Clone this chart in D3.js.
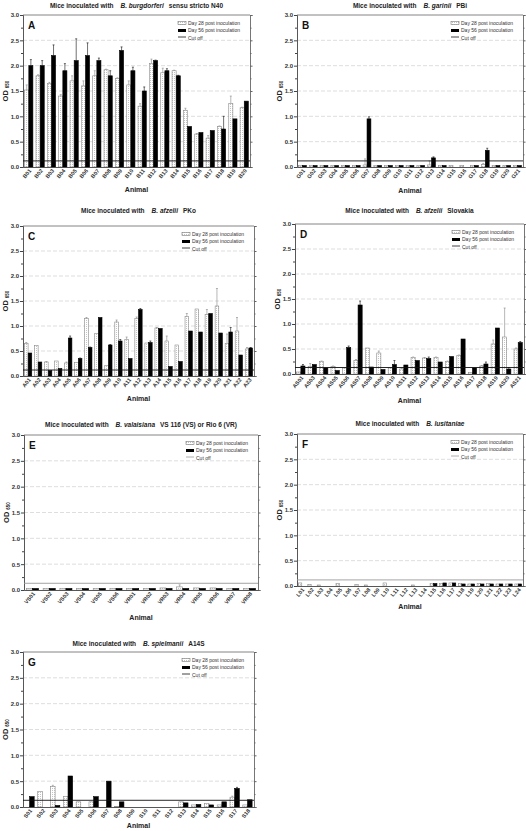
<!DOCTYPE html>
<html><head><meta charset="utf-8">
<script src="https://cdn.jsdelivr.net/npm/d3@7"></script>
<style>body{margin:0;background:#fff}svg{display:block;font-family:"Liberation Sans",Arial,sans-serif}</style>
</head><body><svg id="c" width="526" height="831"></svg>
<script>
// ---------- DATA ----------
const yTicks = [0, 0.5, 1.0, 1.5, 2.0, 2.5, 3.0];
const legendLabels = ["Day 28 post inoculation", "Day 56 post inoculation", "Cut off"];

// Panel A: B. burgdorferi sensu stricto N40
const aAnimals = ["B01","B02","B03","B04","B05","B06","B07","B08","B09","B10","B11","B12","B13","B14","B15","B16","B17","B18","B19","B20"];
const aDay28 = [1.52,1.80,1.65,1.40,1.70,1.60,1.80,1.92,1.75,1.62,1.20,2.04,1.86,1.90,1.12,0.65,0.57,0.80,1.25,1.17];
const aDay28Err = [0.10,0.02,0.02,0.03,0.10,0.10,0.10,0.01,0.01,0.08,0.05,0.09,0.09,0.01,0.04,0.01,0.05,0.01,0.15,0.01];
const aDay56 = [2.00,2.00,2.20,1.90,2.10,2.20,2.10,1.80,2.30,1.90,1.50,2.10,1.90,1.80,0.80,0.68,0.72,0.75,0.95,1.30];
const aDay56Err = [0.12,0.10,0.21,0.14,0.43,0.25,0.05,0.10,0.07,0.07,0.08,0.01,0.04,0.01,0,0,0,0.25,0,0];
const aCutoff = 0.12;

// Panel B: B. garinii PBi
const bAnimals = ["G01","G02","G03","G04","G05","G06","G07","G08","G09","G10","G11","G12","G13","G14","G15","G16","G17","G18","G19","G20","G21"];
const bDay28 = [0.03,0.03,0.03,0.03,0.03,0.03,0.04,0.03,0.03,0.03,0.03,0.03,0.04,0.03,0.03,0.03,0.03,0.05,0.03,0.03,0.03];
const bDay28Err = [0,0,0,0,0,0,0.12,0,0,0,0,0,0.08,0,0,0,0,0.02,0,0,0];
const bDay56 = [0.03,0.03,0.03,0.03,0.03,0.03,0.95,0.03,0.03,0.03,0.03,0.03,0.18,0.03,null,null,0.03,0.33,0.03,0.03,0.03];
const bDay56Err = [0,0,0,0,0,0,0.04,0,0,0,0,0,0.02,0,0,0,0,0.04,0,0,0];
const bCutoff = 0.12;

// Panel C: B. afzelii PKo
const cAnimals = ["A01","A02","A03","A04","A05","A06","A07","A08","A09","A10","A11","A12","A13","A14","A15","A16","A17","A18","A19","A20","A21","A22","A23"];
const cDay28 = [0.65,0.61,0.28,0.30,0.26,0.27,1.15,0.85,0.21,1.08,0.73,1.15,0.66,0.96,0.70,0.62,1.19,1.34,1.23,1.40,0.65,0.90,0.54];
const cDay28Err = [0.02,0,0.01,0,0.02,0,0.02,0,0,0.04,0.05,0.03,0,0.01,0.10,0,0.06,0,0.10,0.35,0.19,0.27,0.03];
const cDay56 = [0.46,0.28,0.11,0.15,0.76,0.35,0.57,1.17,0.62,0.70,0.35,1.33,0.67,0.95,0.19,0.29,0.90,0.88,1.25,0.86,0.88,0.42,0.56];
const cDay56Err = [0,0,0,0,0.04,0.01,0.01,0,0.01,0.03,0,0.02,0.03,0,0,0,0,0,0,0,0.09,0,0.01];
const cCutoff = 0.12;

// Panel D: B. afzelii Slovakia
const dAnimals = ["AS01","AS03","AS04","AS05","AS06","AS07","AS08","AS09","AS10","AS11","AS12","AS13","AS14","AS15","AS16","AS17","AS18","AS19","AS20","AS21"];
const dDay28 = [0.04,0.15,0.25,0.15,0.12,0.27,0.52,0.42,0.12,0.10,0.33,0.32,0.33,0.25,0.37,0.03,0.16,0.60,0.74,0.50];
const dDay28Err = [0,0.06,0.01,0.01,0,0.02,0,0.04,0,0.01,0.01,0.01,0.01,0.01,0.01,0,0.01,0.08,0.58,0.02];
const dDay56 = [0.16,0.19,0.12,0.07,0.53,1.38,0.14,0.09,0.19,0.18,0.27,0.31,0.24,0.35,0.70,0.12,0.20,0.92,0.10,0.63];
const dDay56Err = [0.03,0,0,0,0.03,0.08,0,0,0.08,0,0,0.03,0,0,0,0,0.04,0,0.03,0.02];
const dCutoff = 0.13;

// Panel E: B. valaisiana VS 116 / Rio 6
const eAnimals = ["VS01","VS02","VS03","VS04","VS05","VS06","VR01","VR02","VR03","VR04","VR05","VR06","VR07","VR08"];
const eDay28 = [0.03,0.03,0.03,0.03,0.03,0.03,0.03,0.03,0.04,0.06,0.04,0.04,0.03,0.03];
const eDay28Err = [0,0,0,0,0,0,0,0,0,0.04,0,0,0,0];
const eDay56 = [0.03,0.03,0.03,0.03,0.03,0.03,0.03,0.03,0.03,0.03,0.03,0.03,0.03,0.03];
const eDay56Err = [0,0,0,0,0,0,0,0,0,0,0,0,0,0];
const eCutoff = 0.13;

// Panel F: B. lusitaniae
const fAnimals = ["L01","L02","L03","L04","L05","L06","L07","L08","L09","L10","L11","L12","L13","L14","L15","L16","L17","L18","L19","L20","L21","L22","L23","L24"];
const fDay28 = [0.06,0.03,0.02,null,0.05,null,0.03,0.02,null,0.06,null,null,0.02,null,0.05,0.05,0.06,0.05,0.04,0.05,0.05,0.04,0.04,0.04];
const fDay28Err = [0,0,0,0,0,0,0,0,0,0,0,0,0,0,0,0,0,0,0,0,0,0,0,0];
const fDay56 = [null,null,null,null,null,null,null,null,null,null,null,null,null,null,0.05,0.06,0.06,0.04,0.04,0.04,0.04,0.04,0.04,0.04];
const fDay56Err = [0,0,0,0,0,0,0,0,0,0,0,0,0,0,0,0,0,0,0,0,0,0,0,0];
const fCutoff = 0.12;

// Panel G: B. spielmanii A14S
const gAnimals = ["S01","S02","S03","S04","S05","S06","S07","S08","S09","S10","S11","S12","S13","S14","S15","S16","S17","S18"];
const gDay28 = [null,0.30,0.40,0.20,0.10,0.10,null,0.01,null,null,null,null,0.10,0.04,0.07,0.04,0.19,0.04];
const gDay28Err = [0,0,0.02,0,0,0,0,0,0,0,0,0,0,0,0,0,0.02,0];
const gDay56 = [0.20,null,0.03,0.60,null,0.20,0.50,0.10,null,null,null,null,0.08,0.05,0.04,0.10,0.36,0.14];
const gDay56Err = [0,0,0,0,0,0,0,0,0,0,0,0,0,0,0,0,0.02,0];
const gCutoff = 0.13;

// ---------- LAYOUT ----------
const panels = [
  {letter:"A", species:"B. burgdorferi", strain:"sensu stricto N40", animals:aAnimals, d28:aDay28, e28:aDay28Err, d56:aDay56, e56:aDay56Err, cut:aCutoff,
   x0:23, x1:250, yTop:15, yBot:167, titleY:7.5, animalY:192, cutColor:"#111"},
  {letter:"B", species:"B. garinii", strain:"PBi", animals:bAnimals, d28:bDay28, e28:bDay28Err, d56:bDay56, e56:bDay56Err, cut:bCutoff,
   x0:297, x1:523, yTop:15, yBot:167, titleY:7.5, animalY:193, cutColor:"#111"},
  {letter:"C", species:"B. afzelii", strain:"PKo", animals:cAnimals, d28:cDay28, e28:cDay28Err, d56:cDay56, e56:cDay56Err, cut:cCutoff,
   x0:23, x1:254, yTop:226, yBot:376, titleY:212.5, animalY:401, cutColor:"#111"},
  {letter:"D", species:"B. afzelii", strain:"Slovakia", animals:dAnimals, d28:dDay28, e28:dDay28Err, d56:dDay56, e56:dDay56Err, cut:dCutoff,
   x0:295, x1:524, yTop:224, yBot:374, titleY:213, animalY:403, cutColor:"#111"},
  {letter:"E", species:"B. valaisiana", strain:"VS 116 (VS) or Rio 6 (VR)", animals:eAnimals, d28:eDay28, e28:eDay28Err, d56:eDay56, e56:eDay56Err, cut:eCutoff,
   x0:24, x1:258, yTop:435, yBot:590, titleY:426.5, animalY:620, cutColor:"#999"},
  {letter:"F", species:"B. lusitaniae", strain:"", animals:fAnimals, d28:fDay28, e28:fDay28Err, d56:fDay56, e56:fDay56Err, cut:fCutoff,
   x0:297, x1:523, yTop:434, yBot:586, titleY:425.5, animalY:609, cutColor:"#999"},
  {letter:"G", species:"B. spielmanii", strain:"A14S", animals:gAnimals, d28:gDay28, e28:gDay28Err, d56:gDay56, e56:gDay56Err, cut:gCutoff,
   x0:23, x1:254, yTop:652, yBot:807, titleY:645.5, animalY:828, cutColor:"#111"}
];

const svg = d3.select("#c");
const defs = svg.append("defs");
const pat = defs.append("pattern").attr("id","dots").attr("width",2).attr("height",2).attr("patternUnits","userSpaceOnUse");
pat.append("rect").attr("width",2).attr("height",2).attr("fill","#fff");
pat.append("rect").attr("width",1).attr("height",1).attr("fill","#c4c4c4");

panels.forEach(p => {
  const g = svg.append("g");
  const y = d3.scaleLinear().domain([0,3]).range([p.yBot, p.yTop]);
  const x = d3.scaleBand().domain(p.animals).range([p.x0, p.x1]).paddingInner(0.26).paddingOuter(0.14);
  const sub = d3.scaleBand().domain(["d28","d56"]).range([0, x.bandwidth()]).padding(0.02);

  // grid lines
  g.append("g").selectAll("line").data(yTicks.filter(v => v > 0 && v < 3)).join("line")
    .attr("x1", p.x0).attr("x2", p.x1).attr("y1", d => y(d)).attr("y2", d => y(d))
    .attr("stroke","#c8c8c8").attr("stroke-width",0.6).attr("stroke-dasharray","4,2");

  // frame top
  g.append("line").attr("x1",p.x0).attr("x2",p.x1).attr("y1",y(3)).attr("y2",y(3)).attr("stroke","#666").attr("stroke-width",0.8);

  const minor = d3.range(0.25, 3, 0.5);
  const la = g.append("g").attr("transform",`translate(${p.x0},0)`)
    .call(d3.axisLeft(y).tickValues(yTicks).tickFormat(d3.format(".1f")).tickSize(3).tickPadding(1));
  la.select(".domain").attr("stroke","#444").attr("stroke-width",0.9);
  la.selectAll(".tick line").attr("stroke","#444");
  la.selectAll("text").attr("font-size",6).attr("font-weight","bold").attr("fill","#333").attr("font-family","Liberation Sans, Arial, sans-serif");
  g.append("g").attr("transform",`translate(${p.x0},0)`)
    .call(d3.axisLeft(y).tickValues(minor).tickFormat("").tickSize(2))
    .call(s => { s.select(".domain").remove(); s.selectAll("line").attr("stroke","#444"); });

  // right axis
  const ra = g.append("g").attr("transform",`translate(${p.x1},0)`)
    .call(d3.axisRight(y).tickValues(yTicks).tickFormat("").tickSize(2.5));
  ra.select(".domain").attr("stroke","#666").attr("stroke-width",0.9);
  ra.selectAll("line").attr("stroke","#666");
  g.append("g").attr("transform",`translate(${p.x1},0)`)
    .call(d3.axisRight(y).tickValues(minor).tickFormat("").tickSize(1.5))
    .call(s => { s.select(".domain").remove(); s.selectAll("line").attr("stroke","#666"); });

  // bars
  const rows = p.animals.map((a,i) => ({a, d28:p.d28[i], e28:p.e28[i], d56:p.d56[i], e56:p.e56[i]}));
  const series = [
    {key:"d28", err:"e28", fill:"url(#dots)", stroke:"#8a8a8a", ec:"#888"},
    {key:"d56", err:"e56", fill:"#000", stroke:"#000", ec:"#111"}
  ];
  series.forEach(s => {
    const data = rows.filter(r => r[s.key] != null);
    g.append("g").selectAll("path").data(data.filter(r => r[s.err] > 0)).join("path")
      .attr("d", r => {
        const cx = x(r.a) + sub(s.key) + sub.bandwidth()/2;
        const y0 = y(r[s.key]), y1 = y(r[s.key] + r[s.err]);
        return `M${cx},${y0}V${y1}M${cx-1},${y1}H${cx+1}`;
      })
      .attr("stroke", s.ec).attr("stroke-width",0.6).attr("fill","none");
    g.append("g").selectAll("rect").data(data).join("rect")
      .attr("x", r => x(r.a) + sub(s.key))
      .attr("width", sub.bandwidth())
      .attr("y", r => y(r[s.key]))
      .attr("height", r => Math.max(0.5, y(0) - y(r[s.key])))
      .attr("fill", s.fill).attr("stroke", s.stroke).attr("stroke-width",0.6);
  });

  // cutoff
  g.append("line").attr("x1",p.x0).attr("x2",p.x1).attr("y1",y(p.cut)).attr("y2",y(p.cut))
    .attr("stroke",p.cutColor).attr("stroke-width",0.9);

  // bottom axis
  const ba = g.append("g").attr("transform",`translate(0,${p.yBot})`)
    .call(d3.axisBottom(x).tickSize(0).tickPadding(0));
  ba.select(".domain").attr("stroke","#444").attr("stroke-width",0.9);
  ba.selectAll("text")
    .attr("font-size",5.5).attr("font-weight","bold").attr("fill","#333").attr("font-family","Liberation Sans, Arial, sans-serif")
    .attr("text-anchor","end").attr("dy",0).attr("y",0)
    .attr("transform", `translate(3,4) rotate(-50)`);

  // axis titles
  const cx = (p.x0 + p.x1)/2, cy = (p.yTop + p.yBot)/2;
  g.append("text").attr("x",cx).attr("y",p.animalY).attr("text-anchor","middle")
    .attr("font-size",7).attr("font-weight","bold").attr("fill","#222").text("Animal");
  const od = g.append("text").attr("transform",`translate(${p.x0-15},${cy}) rotate(-90)`).attr("text-anchor","middle")
    .attr("font-weight","bold").attr("fill","#222");
  od.append("tspan").attr("font-size",7.5).text("OD");
  od.append("tspan").attr("font-size",4.5).attr("dx",2).attr("dy",1).text("650");

  // title
  const t = g.append("text").attr("x",cx).attr("y",p.titleY).attr("text-anchor","middle")
    .attr("font-size",6.5).attr("font-weight","bold").attr("fill","#222");
  t.append("tspan").text("Mice inoculated with");
  t.append("tspan").attr("dx",7).attr("font-style","italic").text(p.species);
  if (p.strain) t.append("tspan").attr("dx",5).text(p.strain);

  // panel letter
  g.append("text").attr("x",p.x0+5).attr("y",p.yTop+14).attr("font-size",10).attr("font-weight","bold").attr("fill","#111").text(p.letter);

  // legend
  const lx = p.x1 - 72, ly = p.yTop + 8;
  const lg = g.append("g").attr("font-size",5).attr("fill","#333");
  lg.append("rect").attr("x",lx).attr("y",ly-1.5).attr("width",8).attr("height",3).attr("fill","url(#dots)").attr("stroke","#777").attr("stroke-width",0.6);
  lg.append("rect").attr("x",lx).attr("y",ly+6).attr("width",8).attr("height",3).attr("fill","#000");
  lg.append("line").attr("x1",lx).attr("x2",lx+8).attr("y1",ly+14).attr("y2",ly+14).attr("stroke",p.cutColor).attr("stroke-width",0.8);
  lg.selectAll("text.l").data(legendLabels).join("text").attr("class","l")
    .attr("x",lx+10).attr("y",(d,i) => ly + 1.7 + i*7.7).text(d => d);
});
</script></body></html>
